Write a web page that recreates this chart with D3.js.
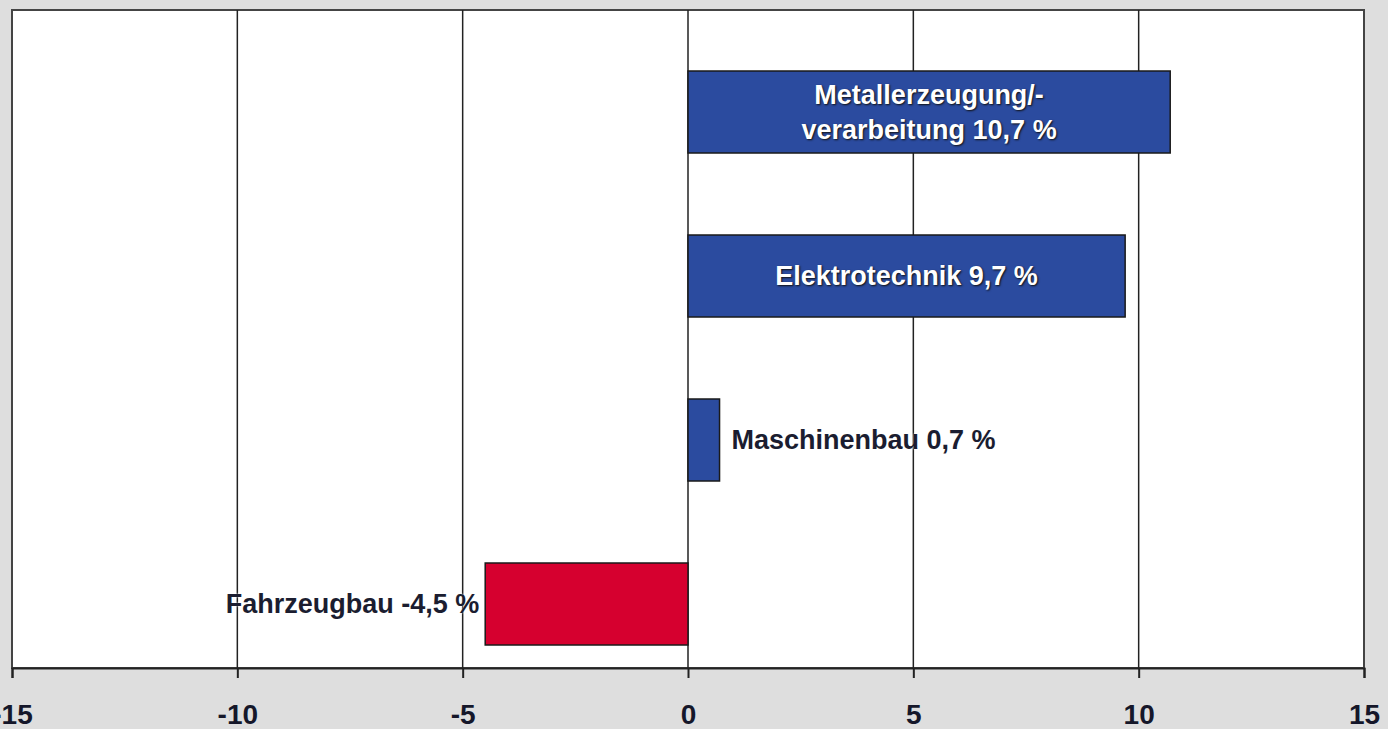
<!DOCTYPE html>
<html>
<head>
<meta charset="utf-8">
<script src="https://cdn.jsdelivr.net/npm/d3@7"></script>
<style>
  html, body { margin: 0; padding: 0; background: #dedede; }
  svg { display: block; font-family: "Liberation Sans", Arial, sans-serif; }
</style>
</head>
<body>
<div id="chart"></div>
<script>
const categories = ["Metallerzeugung/-verarbeitung", "Elektrotechnik", "Maschinenbau", "Fahrzeugbau"];
const labelLines = [["Metallerzeugung/-", "verarbeitung 10,7 %"], ["Elektrotechnik 9,7 %"], ["Maschinenbau 0,7 %"], ["Fahrzeugbau -4,5 %"]];
const values = [10.7, 9.7, 0.7, -4.5];
const labelInside = [true, true, false, false];
const xTicks = [-15, -10, -5, 0, 5, 10, 15];

const width = 1388;
const height = 729;
const plot = { left: 12, right: 1364, top: 10, bottom: 668 };

const rows = categories.map((c, i) => ({ name: c, value: values[i], lines: labelLines[i], inside: labelInside[i] }));

const svg = d3.select("#chart")
  .append("svg")
  .attr("width", width)
  .attr("height", height);

svg.append("rect")
  .attr("width", width)
  .attr("height", height)
  .attr("fill", "#dedede");

const x = d3.scaleLinear().domain([-15, 15]).range([plot.left, plot.right]);

const y = d3.scaleBand()
  .domain(categories)
  .range([30, 686])
  .paddingInner(0.5)
  .paddingOuter(0.25);

svg.append("rect")
  .attr("x", plot.left)
  .attr("y", plot.top)
  .attr("width", plot.right - plot.left)
  .attr("height", plot.bottom - plot.top)
  .attr("fill", "#fff")
  .attr("stroke", "#444")
  .attr("stroke-width", 2);

// vertical grid lines
svg.append("g")
  .selectAll("line")
  .data(xTicks.slice(1, -1))
  .join("line")
  .attr("x1", (d) => x(d))
  .attr("x2", (d) => x(d))
  .attr("y1", plot.top)
  .attr("y2", plot.bottom)
  .attr("stroke", "#222")
  .attr("stroke-width", 1.5);

// bars
svg.append("g")
  .selectAll("rect")
  .data(rows)
  .join("rect")
  .attr("x", (d) => x(Math.min(0, d.value)))
  .attr("y", (d) => y(d.name))
  .attr("width", (d) => Math.abs(x(d.value) - x(0)))
  .attr("height", y.bandwidth())
  .attr("fill", (d) => (d.value < 0 ? "#d6002f" : "#2b4b9f"))
  .attr("stroke", "#1a1a1a")
  .attr("stroke-width", 1.5);

// x axis (plain hyphen minus like the original)
const axis = svg.append("g")
  .attr("transform", `translate(0,${plot.bottom})`)
  .call(d3.axisBottom(x).tickValues(xTicks).tickSize(10).tickFormat((d) => String(d)));

axis.select(".domain").attr("stroke", "#222").attr("stroke-width", 2);
axis.selectAll(".tick line").attr("stroke", "#222").attr("stroke-width", 2);
axis.selectAll(".tick text")
  .attr("y", 42)
  .attr("dy", "0.5em")
  .attr("fill", "#15172a")
  .attr("font-size", 28)
  .attr("font-weight", "bold")
  .attr("font-family", "Liberation Sans, Arial, sans-serif");

// bar labels
const labels = svg.append("g")
  .selectAll("text")
  .data(rows)
  .join("text")
  .attr("font-size", 27)
  .attr("font-weight", "bold")
  .attr("x", (d) => {
    if (d.inside) return (x(0) + x(d.value)) / 2;
    return d.value >= 0 ? x(d.value) + 12 : x(d.value) - 6;
  })
  .attr("y", (d) => y(d.name) + y.bandwidth() / 2)
  .attr("text-anchor", (d) => (d.inside ? "middle" : d.value >= 0 ? "start" : "end"))
  .attr("fill", (d) => (d.inside ? "#fff" : "#1b1d30"))
  .style("text-shadow", (d) => (d.inside ? "1px 1px 2px #111" : "0 0 2px #fff"));

labels.selectAll("tspan")
  .data((d) => d.lines.map((line, i) => ({ line, i, n: d.lines.length })))
  .join("tspan")
  .attr("x", function () { return d3.select(this.parentNode).attr("x"); })
  .attr("dy", (d) => (d.i === 0 ? `${0.35 - (d.n - 1) * 0.65}em` : "1.3em"))
  .text((d) => d.line);
</script>
</body>
</html>
